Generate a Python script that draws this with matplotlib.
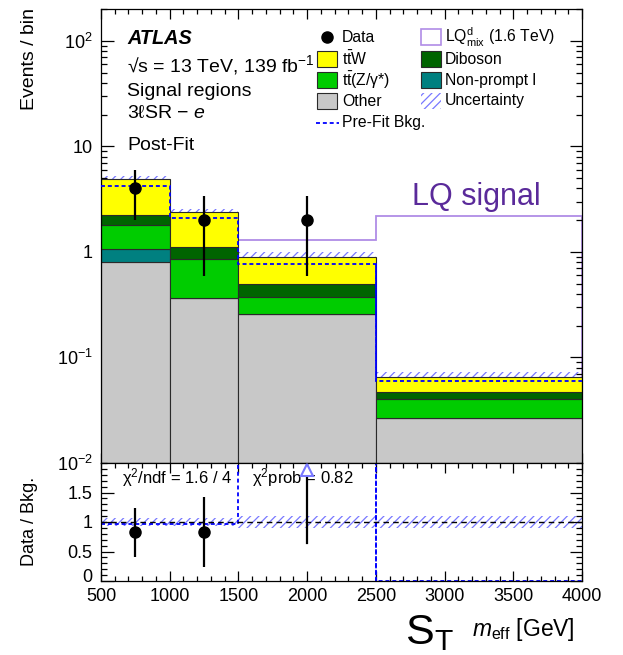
import numpy as np
import matplotlib
matplotlib.use("Agg")
import matplotlib.pyplot as plt
from matplotlib.patches import Rectangle
from matplotlib.lines import Line2D
from matplotlib.transforms import ScaledTranslation
from matplotlib.ticker import FixedLocator, FixedFormatter, MultipleLocator, LogLocator, NullFormatter

# ---------------- data ----------------
bin_edges = [500, 1000, 1500, 2500, 4000]
other = [0.808, 0.362, 0.257, 0.0266]
nonprompt = [0.248, 0.0, 0.0, 0.0]
ttz = [0.734, 0.488, 0.119, 0.0138]
diboson = [0.47, 0.26, 0.124, 0.0063]
ttw = [2.60, 1.28, 0.40, 0.0183]
prefit_bkg = [4.19, 2.08, 0.77, 0.060]
signal_lq = [0.3, 0.6, 1.30, 2.17]
data = [4, 2, 2, 0]
bkg_unc = [0.07, 0.07, 0.11, 0.11]
prefit_ratio = [0.97, 0.97, 2.5, 0.0]

main_yticks = [1e-2, 1e-1, 1, 10, 100]
main_ylabels = ["$10^{-2}$", "$10^{-1}$", "1", "10", "$10^{2}$"]
ratio_yticks = [0, 0.5, 1, 1.5]
ratio_ylabels = ["0", "0.5", "1", "1.5"]
xticks = [500, 1000, 1500, 2000, 2500, 3000, 3500, 4000]

# ---------------- style ----------------
FONT = ["Liberation Sans", "DejaVu Sans"]
plt.rcParams["font.family"] = FONT
plt.rcParams["mathtext.fontset"] = "custom"
plt.rcParams["mathtext.rm"] = "Liberation Sans"
plt.rcParams["mathtext.it"] = "Liberation Sans:italic"
plt.rcParams["mathtext.bf"] = "Liberation Sans:bold"
plt.rcParams["mathtext.sf"] = "Liberation Sans"
plt.rcParams["hatch.linewidth"] = 0.9
plt.rcParams["axes.linewidth"] = 0.9

C_OTHER = "#c8c8c8"
C_NP = "#008080"
C_TTZ = "#00cc00"
C_DIB = "#006400"
C_TTW = "#ffff00"
C_HATCH = "#7878ff"
C_SIG = "#b08ce6"
C_SIGTXT = "#5a2a9a"
C_PRE = "#0000ff"

W, H = 623, 655
fig = plt.figure(figsize=(W / 100, H / 100), dpi=100)

def fx(x):
    return x / W

def fy(y):
    return 1 - y / H

L, R = 101, 582
T, M, B = 9, 463, 581
ax = fig.add_axes([fx(L), fy(M), fx(R) - fx(L), fy(T) - fy(M)])
axr = fig.add_axes([fx(L), fy(B), fx(R) - fx(L), fy(M) - fy(B)], sharex=ax)

edges = np.array(bin_edges, dtype=float)
left = edges[:-1]
width = np.diff(edges)
centers = left + width / 2
layers = [(other, C_OTHER), (nonprompt, C_NP), (ttz, C_TTZ), (diboson, C_DIB), (ttw, C_TTW)]
total = np.sum([np.array(v) for v, _ in layers], axis=0)
unc = np.array(bkg_unc)
d = np.array(data, dtype=float)

ax.set_yscale("log")
ax.set_xlim(500, 4000)
ax.set_ylim(0.01, 200)

# uncertainty hatch (behind stack)
ax.bar(left, total * 2 * unc, bottom=total * (1 - unc), width=width, align="edge",
       facecolor="none", edgecolor=C_HATCH, hatch="////", linewidth=0, zorder=1)
# signal line (behind stack)
ax.stairs(signal_lq, edges, color=C_SIG, linewidth=1.3, zorder=1.5)

cum = np.zeros(len(left))
for vals, col in layers:
    v = np.array(vals)
    ax.bar(left, v, bottom=np.where(cum > 0, cum, 1e-6), width=width, align="edge",
           color=col, edgecolor="#2a2a2a", linewidth=0.8, zorder=2)
    cum = cum + v

ax.stairs(prefit_bkg, edges, color=C_PRE, linewidth=1.3, linestyle=(0, (2.2, 1.6)), zorder=3,
          baseline=None)
ax.plot([edges[-2], edges[-2]], [prefit_bkg[-2], prefit_bkg[-1]], color=C_PRE,
        linewidth=1.3, linestyle=(0, (2.2, 1.6)), zorder=3)

mask = d > 0
ax.errorbar(centers[mask], d[mask], yerr=np.sqrt(d[mask]), fmt="o", color="black",
            markersize=8, elinewidth=1.6, capsize=0, zorder=5)

ax.text(2763, 3.3, "LQ signal", color=C_SIGTXT, fontsize=22, ha="left", va="center")

# ticks main
ax.yaxis.set_major_locator(FixedLocator(main_yticks))
ax.yaxis.set_major_formatter(FixedFormatter(main_ylabels))
ax.yaxis.set_minor_locator(LogLocator(base=10, subs=np.arange(2, 10)))
ax.yaxis.set_minor_formatter(NullFormatter())
ax.xaxis.set_major_locator(FixedLocator(xticks))
ax.xaxis.set_minor_locator(MultipleLocator(100))
for a in (ax, axr):
    a.tick_params(which="both", direction="in", top=True, right=True, labelsize=12)
    a.tick_params(which="major", axis="y", length=9, width=0.9)
    a.tick_params(which="minor", axis="y", length=4.5, width=0.9)
    a.tick_params(which="major", axis="x", length=7, width=0.9)
    a.tick_params(which="minor", axis="x", length=3.5, width=0.9)
ax.tick_params(axis="x", labelbottom=False)
ax.tick_params(axis="y", labelsize=13, pad=6)

# ---------------- ratio ----------------
axr.set_ylim(0, 2)
axr.bar(left, 2 * unc, bottom=1 - unc, width=width, align="edge", facecolor="none",
        edgecolor=C_HATCH, hatch="////", linewidth=0, zorder=1)
axr.stairs(prefit_ratio, edges, color=C_PRE, linewidth=1.3, linestyle=(0, (2.2, 1.6)),
           baseline=None, zorder=2)
axr.plot([edges[-2], edges[-2]], [prefit_ratio[-2], prefit_ratio[-1]], color=C_PRE,
         linewidth=1.3, linestyle=(0, (2.2, 1.6)), zorder=2)
axr.axhline(1, color="black", linewidth=1, linestyle=(0, (4, 3)), zorder=3)

ratio = np.where(total > 0, d / total, 0)
rerr = np.sqrt(d) / total
inr = mask & (ratio <= 2)
outr = mask & (ratio > 2)
axr.errorbar(centers[inr], ratio[inr], yerr=rerr[inr], fmt="o", color="black",
             markersize=8, elinewidth=1.6, capsize=0, zorder=5)
for c, r, e in zip(centers[outr], ratio[outr], rerr[outr]):
    axr.plot([c, c], [r - e, 2.0], color="black", linewidth=1.6, zorder=5)
    axr.plot([c], [1.88], marker="^", markersize=9, markerfacecolor="white",
             markeredgecolor=C_HATCH, markeredgewidth=1.5, zorder=6)

axr.yaxis.set_major_locator(FixedLocator(ratio_yticks))
axr.yaxis.set_major_formatter(FixedFormatter(ratio_ylabels))
axr.yaxis.set_minor_locator(MultipleLocator(0.1))
axr.xaxis.set_major_locator(FixedLocator(xticks))
axr.xaxis.set_minor_locator(MultipleLocator(100))
axr.tick_params(axis="y", labelsize=13, pad=6)
axr.tick_params(axis="x", labelsize=13, pad=5)
fig.canvas.draw()
zero_lbl = axr.get_yticklabels()[0]
zero_lbl.set_transform(zero_lbl.get_transform() + ScaledTranslation(0, 5 / 100, fig.dpi_scale_trans))

axr.text(655, 1.76, "χ$^{2}$/ndf = 1.6 / 4", fontsize=12, ha="left", va="center")
axr.text(1600, 1.76, "χ$^{2}$prob = 0.82", fontsize=12, ha="left", va="center")

# ---------------- labels ----------------
fig.text(fx(30), fy(8), "Events / bin", rotation=90, ha="center", va="top", fontsize=14)
fig.text(fx(30), fy(521), "Data / Bkg.", rotation=90, ha="center", va="center", fontsize=13)
fig.text(fx(405), fy(644), "S$_{\\mathrm{T}}$", fontsize=31, ha="left", va="baseline")
fig.text(fx(472), fy(636), "$m_{\\mathrm{eff}}$ [GeV]", fontsize=16.5, ha="left", va="baseline")

# top-left text
fig.text(fx(127), fy(39), "ATLAS", fontsize=14.3, fontweight="bold", fontstyle="italic",
         ha="left", va="center")
fig.text(fx(127), fy(65), "√s = 13 TeV, 139 fb$^{\\mathrm{-1}}$", fontsize=14,
         ha="left", va="center")
fig.text(fx(127), fy(92), "Signal regions", fontsize=14, ha="left", va="center")
fig.text(fx(127), fy(114), "3ℓSR − $e$", fontsize=14, ha="left", va="center")
fig.text(fx(127), fy(146), "Post-Fit", fontsize=14, ha="left", va="center")

# legend (manual)
LFS = 11.3
rows = [37, 59, 80, 101, 123]
bw, bh = 20, 15

def box(xp, yc, fc, ec="#2a2a2a", hatch=None, lw=0.8):
    r = Rectangle((fx(xp), fy(yc + bh / 2)), bw / W, bh / H, transform=fig.transFigure,
                  facecolor=fc, edgecolor=ec, linewidth=lw, hatch=hatch)
    fig.add_artist(r)

c1b, c1t = 317, 342
c2b, c2t = 421, 445
fig.add_artist(Line2D([fx(327)], [fy(rows[0])], marker="o", color="black", markersize=8,
                      transform=fig.transFigure))
fig.text(fx(c1t), fy(rows[0]), "Data", fontsize=LFS, ha="left", va="center")
box(c1b, rows[1], C_TTW)
fig.text(fx(c1t), fy(rows[1]), "t$\\bar{\\mathrm{t}}$W", fontsize=LFS, ha="left", va="center")
box(c1b, rows[2], C_TTZ)
fig.text(fx(c1t), fy(rows[2]), "t$\\bar{\\mathrm{t}}$(Z/γ*)", fontsize=LFS, ha="left", va="center")
box(c1b, rows[3], C_OTHER)
fig.text(fx(c1t), fy(rows[3]), "Other", fontsize=LFS, ha="left", va="center")
fig.add_artist(Line2D([fx(316), fx(339)], [fy(rows[4]), fy(rows[4])], color=C_PRE,
                      linewidth=1.3, linestyle=(0, (2.2, 1.6)), transform=fig.transFigure))
fig.text(fx(c1t), fy(rows[4]), "Pre-Fit Bkg.", fontsize=LFS, ha="left", va="center")

box(c2b, rows[0], "white", ec=C_SIG, lw=1.2)
fig.text(fx(c2t), fy(rows[0]), "LQ$^{\\mathrm{d}}_{\\mathrm{mix}}$ (1.6 TeV)", fontsize=LFS,
         ha="left", va="center")
box(c2b, rows[1], C_DIB)
fig.text(fx(c2t), fy(rows[1]), "Diboson", fontsize=LFS, ha="left", va="center")
box(c2b, rows[2], C_NP)
fig.text(fx(c2t), fy(rows[2]), "Non-prompt l", fontsize=LFS, ha="left", va="center")
box(c2b, rows[3], "none", ec=C_HATCH, hatch="////", lw=0)
fig.text(fx(c2t), fy(rows[3]), "Uncertainty", fontsize=LFS, ha="left", va="center")

fig.savefig("out.png", dpi=100)
